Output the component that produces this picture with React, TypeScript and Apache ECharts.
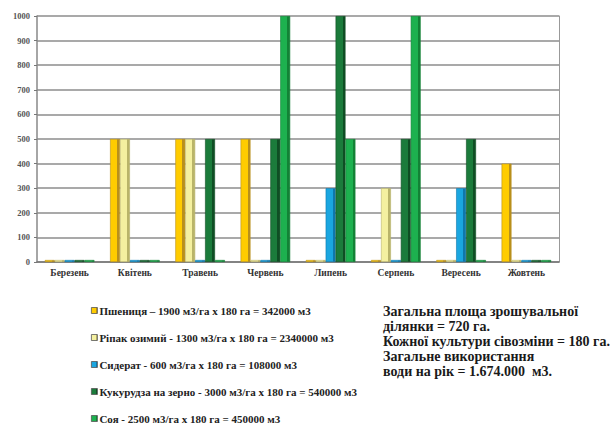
import React, { useEffect, useRef } from "react";
import * as echarts from "echarts";

const months = ["Березень", "Квітень", "Травень", "Червень", "Липень", "Серпень", "Вересень", "Жовтень"];
const yTicks = [0, 100, 200, 300, 400, 500, 600, 700, 800, 900, 1000];

const wheat = [0, 500, 500, 500, 0, 0, 0, 400];
const rapeseed = [0, 500, 500, 0, 0, 300, 0, 0];
const siderat = [0, 0, 0, 0, 300, 0, 300, 0];
const corn = [0, 0, 500, 500, 1000, 500, 500, 0];
const soy = [0, 0, 0, 1000, 500, 1000, 0, 0];

const seriesNames = [
  "Пшениця – 1900 м3/га х 180 га = 342000 м3",
  "Ріпак озимий - 1300 м3/га х 180 га = 2340000 м3",
  "Сидерат - 600 м3/га х 180 га = 108000 м3",
  "Кукурудза на зерно - 3000 м3/га х 180 га = 540000 м3",
  "Соя - 2500 м3/га х 180 га = 450000 м3",
];
const seriesData = [wheat, rapeseed, siderat, corn, soy];
const colors = ["#FFCC00", "#F4F0A0", "#1AA6E0", "#1B7B3B", "#1DB14F"];
const sideColors = ["#B8901C", "#B9B469", "#0E78AC", "#0F4E24", "#138236"];

const infoLines = [
  "Загальна площа зрошувальної",
  "ділянки = 720 га.",
  "Кожної культури сівозміни = 180 га.",
  "Загальне використання",
  "води на рік = 1.674.000  м3.",
];

const FONT = "Liberation Serif";

export default function App() {
  const ref = useRef<HTMLDivElement>(null);
  useEffect(() => {
    if (!ref.current) return;
    const chart = echarts.init(ref.current, null, { renderer: "svg" });
    chart.setOption({
      animation: false,
      backgroundColor: "#ffffff",
      textStyle: { fontFamily: FONT },
      grid: { left: 37, right: 57, top: 16, bottom: 168 },
      legend: {
        orient: "vertical",
        left: 91,
        top: 305,
        height: 160,
        padding: 0,
        itemGap: 16,
        itemWidth: 6,
        itemHeight: 6,
        icon: "rect",
        itemStyle: { borderColor: "#555", borderWidth: 0.8 },
        textStyle: { fontFamily: FONT, fontSize: 11, fontWeight: "bold", color: "#222", lineHeight: 11, padding: [0, 0, 0, -3] },
        data: seriesNames,
      },
      xAxis: {
        type: "category",
        data: months,
        axisLine: { show: true, lineStyle: { color: "#777", width: 1.5 } },
        axisTick: { show: false },
        axisLabel: { fontFamily: FONT, fontSize: 9.5, fontWeight: "bold", color: "#333", margin: 6 },
      },
      yAxis: [
        {
          type: "value",
          min: 0,
          max: 1000,
          interval: 100,
          axisLine: { show: true, lineStyle: { color: "#888", width: 1.5 } },
          axisTick: { show: true, length: 3, lineStyle: { color: "#777" } },
          axisLabel: {
            fontFamily: FONT,
            fontSize: 8.5,
            fontWeight: "bold",
            color: "#555",
            margin: 7,
            formatter: (v: number) => (yTicks.includes(v) ? String(v) : ""),
          },
          splitLine: { show: true, lineStyle: { color: "#8c8c8c", width: 1.6 } },
        },
        {
          type: "value",
          min: 0,
          max: 1000,
          interval: 100,
          position: "right",
          axisLine: { show: true, lineStyle: { color: "#999", width: 1 } },
          axisTick: { show: false },
          axisLabel: { show: false },
          splitLine: { show: false },
        },
      ],
      series: seriesData.map((d, i) => ({
        name: seriesNames[i],
        type: "bar",
        data: d,
        barGap: "0%",
        barCategoryGap: "24%",
        barMinHeight: 2,
        itemStyle: {
          color: new echarts.graphic.LinearGradient(0, 0, 1, 0, [
            { offset: 0, color: colors[i] },
            { offset: 0.72, color: colors[i] },
            { offset: 0.72, color: sideColors[i] },
            { offset: 1, color: sideColors[i] },
          ]),
          borderColor: sideColors[i],
          borderWidth: 0.6,
        },
      })),
      graphic: [
        {
          type: "text",
          left: 383,
          top: 304,
          style: {
            text: infoLines.join("\n"),
            fontFamily: FONT,
            fontSize: 14,
            fontWeight: "bold",
            lineHeight: 15,
            fill: "#1a1a1a",
          },
        },
      ],
    });
    return () => chart.dispose();
  }, []);
  return <div ref={ref} style={{ position: "fixed", left: 0, top: 0, width: 616, height: 430 }} />;
}
